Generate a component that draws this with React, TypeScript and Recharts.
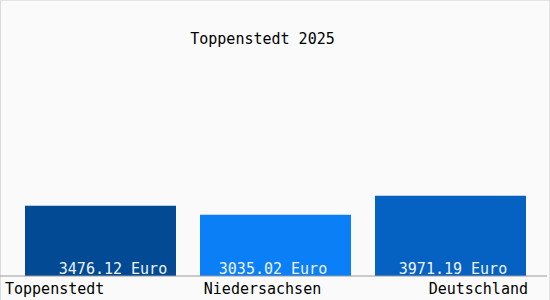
import { BarChart, Bar, XAxis, YAxis, Cell, LabelList } from "recharts";

const regions = ["Toppenstedt", "Niedersachsen", "Deutschland"];
const values = [3476.12, 3035.02, 3971.19];
const barColors = ["#034a94", "#0a7ff6", "#0562c2"];

const data = regions.map((name, i) => ({ name, value: values[i] }));

const FONT = "'DejaVu Sans Mono', monospace";

// small nudges so the labels sit where the original had them
const labelDx = [12.5, -2.5, 2.5];

const AxisTick = (props: any) => {
  const { x, y, payload, index } = props;
  let anchor = "middle";
  let dx = -13;
  if (index === 0) {
    anchor = "start";
    dx = -95.5;
  } else if (index === regions.length - 1) {
    anchor = "end";
    dx = 77.5;
  }
  return (
    <text x={x + dx} y={y + 10} textAnchor={anchor} fontFamily={FONT} fontSize={15} fill="#000">
      {payload.value}
    </text>
  );
};

const ValueLabel = (props: any) => {
  const { x, y, width, height, value, index } = props;
  const text = value.toFixed(2) + " Euro";
  return (
    <text
      x={x + width / 2 + labelDx[index]}
      y={y + height - 2}
      textAnchor="middle"
      fontFamily={FONT}
      fontSize={15}
      fill="#eef2f8"
    >
      {text}
    </text>
  );
};

export default function App() {
  return (
    <div
      style={{
        position: "absolute",
        left: 0,
        top: 0,
        width: 550,
        height: 300,
        background: "#fafafa",
        boxSizing: "border-box",
        borderTop: "1px solid #e4e4e4",
        borderLeft: "1px solid #dcdcdc",
        borderRight: "1px solid #e4e4e4",
      }}
    >
      <div
        style={{
          position: "absolute",
          left: 0,
          width: 523,
          top: 29,
          textAlign: "center",
          fontFamily: FONT,
          fontSize: 15,
          color: "#000",
        }}
      >
        Toppenstedt 2025
      </div>
      <div style={{ position: "absolute", left: -1, top: -1 }}>
        <BarChart
          width={550}
          height={300}
          data={data}
          margin={{ top: 74, right: 3, left: 0, bottom: 0 }}
          barCategoryGap={12}
        >
          <YAxis hide domain={[0, 10000]} />
          <XAxis
            dataKey="name"
            height={24}
            padding={{ left: 13, right: 9 }}
            axisLine={{ stroke: "#9a9a9a" }}
            tickLine={false}
            tick={<AxisTick />}
            interval={0}
          />
          <Bar dataKey="value" isAnimationActive={false}>
            {data.map((d, i) => (
              <Cell key={d.name} fill={barColors[i]} />
            ))}
            <LabelList dataKey="value" content={<ValueLabel />} />
          </Bar>
        </BarChart>
      </div>
    </div>
  );
}
